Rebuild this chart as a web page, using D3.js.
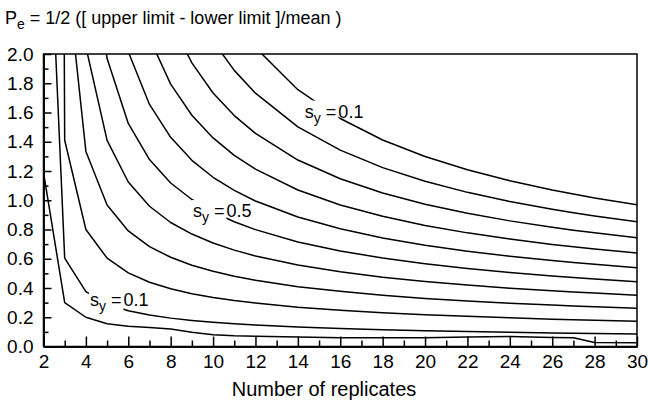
<!DOCTYPE html>
<html><head><meta charset="utf-8">
<script src="https://cdn.jsdelivr.net/npm/d3@7"></script>
<style>
html,body{margin:0;padding:0;background:#fff;}
svg{display:block;}
text{font-family:'Liberation Sans',Arial,Helvetica,sans-serif;fill:#000;}
</style></head><body>
<svg id="chart" width="648" height="401"></svg>
<script>
// ---- data ----
const replicates = [2,3,4,5,6,7,8,9,10,11,12,14,16,18,20,22,24,26,27,28,30];
const sy005 = [1.19,0.30,0.20,0.155,0.138,0.13,0.12,0.097,0.08,0.073,0.07,0.065,0.06,0.06,0.06,0.065,0.068,0.062,0.06,0.028,0.026];
const sy01  = [3.90,0.604,0.375,0.290,0.244,0.215,0.194,0.178,0.165,0.155,0.147,0.133,0.123,0.115,0.108,0.102,0.097,0.093,0.091,0.089,0.086];
const sy02  = [31.3,1.410,0.800,0.604,0.503,0.439,0.395,0.361,0.335,0.314,0.297,0.269,0.248,0.231,0.217,0.206,0.196,0.187,0.183,0.180,0.173];
const sy03  = [null,2.691,1.334,0.967,0.790,0.683,0.610,0.556,0.515,0.481,0.453,0.409,0.377,0.350,0.329,0.311,0.296,0.283,0.277,0.271,0.261];
const sy04  = [null,4.877,2.048,1.409,1.125,0.959,0.848,0.769,0.708,0.659,0.619,0.557,0.511,0.474,0.445,0.420,0.399,0.381,0.373,0.365,0.351];
const sy05  = [null,null,3.042,1.969,1.525,1.278,1.118,1.005,0.920,0.853,0.799,0.715,0.653,0.605,0.566,0.533,0.506,0.482,0.472,0.462,0.443];
const sy06  = [null,null,null,2.690,2.015,1.655,1.430,1.273,1.157,1.067,0.995,0.885,0.805,0.742,0.693,0.652,0.617,0.588,0.574,0.562,0.539];
const sy07  = [null,null,null,null,2.623,2.108,1.794,1.581,1.426,1.307,1.213,1.070,0.968,0.890,0.828,0.777,0.735,0.698,0.682,0.667,0.639];
const sy08  = [null,null,null,null,null,2.657,2.225,1.939,1.733,1.579,1.457,1.275,1.147,1.050,0.973,0.911,0.859,0.815,0.795,0.777,0.743];
const sy09  = [null,null,null,null,null,null,null,2.358,2.088,1.888,1.732,1.502,1.343,1.223,1.130,1.054,0.991,0.939,0.915,0.893,0.853];
const sy10  = [null,null,null,null,null,null,null,null,2.499,2.242,2.044,1.756,1.559,1.412,1.299,1.208,1.133,1.070,1.043,1.016,0.970];
const seriesList = [sy005, sy01, sy02, sy03, sy04, sy05, sy06, sy07, sy08, sy09, sy10];

const xTickValues = [2,4,6,8,10,12,14,16,18,20,22,24,26,28,30];
const xTickLabels = ["2","4","6","8","10","12","14","16","18","20","22","24","26","28","30"];
const yTickValues = [0,0.2,0.4,0.6,0.8,1.0,1.2,1.4,1.6,1.8,2.0];
const yTickLabels = ["0.0","0.2","0.4","0.6","0.8","1.0","1.2","1.4","1.6","1.8","2.0"];

const labelN = [14.33, 9.05, 4.19];
const labelPe = [1.565, 0.885, 0.275];
const labelValues = ["0.1", "0.5", "0.1"];

const titleMain = "P";
const titleSub = "e";
const titleRest = " = 1/2 ([ upper limit - lower limit ]/mean )";
const xTitle = "Number of replicates";

// ---- drawing ----
const svg = d3.select("#chart");
const x = d3.scaleLinear().domain([2, 30]).range([43.5, 637]);
const y = d3.scaleLinear().domain([0, 2]).range([346.5, 54]);
const TICK_FS = 19, LABEL_FS = 18, TITLE_FS = 18, XTITLE_FS = 20;

svg.append("defs").append("clipPath").attr("id", "plotclip")
  .append("rect").attr("x", x(2)).attr("y", y(2))
  .attr("width", x(30) - x(2)).attr("height", y(0) - y(2));

// curves
const line = d3.line()
  .defined(d => d[1] != null)
  .x(d => x(d[0])).y(d => y(d[1]));
const curves = svg.append("g").attr("clip-path", "url(#plotclip)");
seriesList.forEach(s => {
  curves.append("path")
    .attr("d", line(replicates.map((n, i) => [n, s[i]])))
    .attr("fill", "none").attr("stroke", "#000").attr("stroke-width", 1.5)
    .attr("stroke-linejoin", "round");
});

// axes (ticks pointing inward)
const xMinor = d3.axisBottom(x).tickValues(d3.range(3, 30, 2)).tickSize(-6).tickSizeOuter(0).tickFormat("");
const xMajor = d3.axisBottom(x).tickValues(xTickValues).tickSize(-10).tickSizeOuter(0).tickPadding(8)
  .tickFormat((d, i) => xTickLabels[i]);
const yMinor = d3.axisLeft(y).tickValues(d3.range(0.1, 2.0, 0.2)).tickSize(-5).tickSizeOuter(0).tickFormat("");
const yMajor = d3.axisLeft(y).tickValues(yTickValues).tickSize(-8).tickSizeOuter(0).tickPadding(10)
  .tickFormat((d, i) => yTickLabels[i]);

function styleAxis(g) {
  g.selectAll("path, line").attr("stroke", "#000").attr("stroke-width", 1.5);
  g.selectAll("text").attr("font-size", TICK_FS).attr("font-family", "'Liberation Sans',Arial,sans-serif").attr("fill", "#000");
}
svg.append("g").attr("transform", `translate(0,${y(0)})`).call(xMinor).call(styleAxis);
svg.append("g").attr("transform", `translate(0,${y(0)})`).call(xMajor).call(styleAxis);
svg.append("g").attr("transform", `translate(${x(2)},0)`).call(yMinor).call(styleAxis);
svg.append("g").attr("transform", `translate(${x(2)},0)`).call(yMajor).call(styleAxis);

// frame
svg.append("rect").attr("x", x(2)).attr("y", y(2))
  .attr("width", x(30) - x(2)).attr("height", y(0) - y(2))
  .attr("fill", "none").attr("stroke", "#000").attr("stroke-width", 1.5);

// curve labels
labelN.forEach((n, i) => {
  const g = svg.append("g").attr("transform", `translate(${x(n)},${y(labelPe[i])})`);
  const bg = g.append("rect").attr("fill", "#fff");
  const t1 = g.append("text").attr("font-size", LABEL_FS);
  t1.append("tspan").text("s");
  t1.append("tspan").attr("font-size", 14).attr("dy", 5).text("y");
  t1.append("tspan").attr("dy", -5).text(" =");
  const bb = t1.node().getBBox();
  bg.attr("x", bb.x - 1).attr("y", bb.y - 1).attr("width", bb.width + 3).attr("height", bb.height + 3);
  g.append("text").attr("font-size", LABEL_FS).attr("x", bb.x + bb.width + 2).text(labelValues[i]);
});

// title
const tt = svg.append("text").attr("x", 5).attr("y", 24).attr("font-size", TITLE_FS);
tt.append("tspan").text(titleMain);
tt.append("tspan").attr("font-size", 14).attr("dy", 5).text(titleSub);
tt.append("tspan").attr("dy", -5).text(titleRest);

// x axis title
svg.append("text").attr("x", 324).attr("y", 396).attr("text-anchor", "middle")
  .attr("font-size", XTITLE_FS).text(xTitle);
</script>
</body></html>
